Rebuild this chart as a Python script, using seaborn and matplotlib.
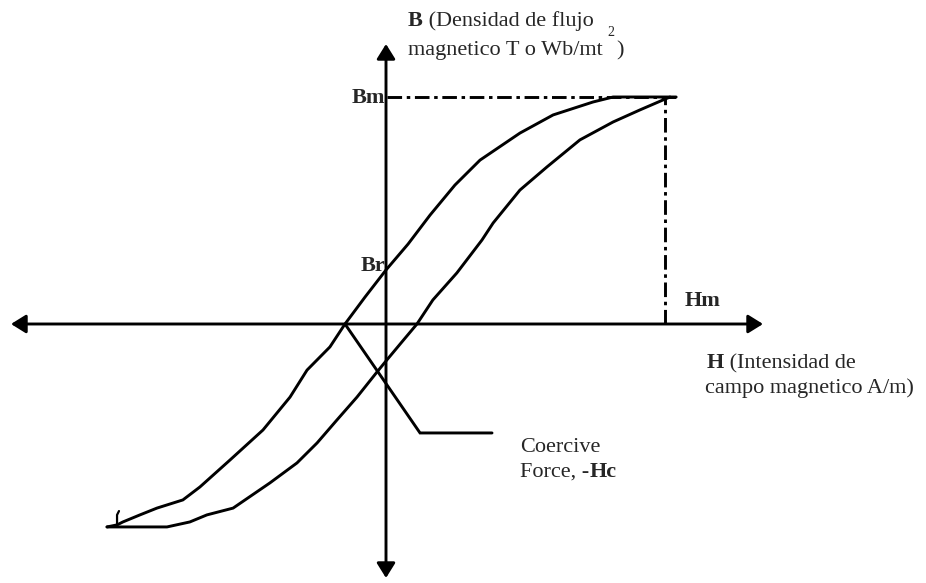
import matplotlib
matplotlib.use("Agg")
import matplotlib.pyplot as plt
import numpy as np
import pandas as pd
import seaborn as sns

# Hysteresis loop, H and B normalised so that Hm = 1 and Bm = 1
upper_h = [1.04, 0.910, 0.814, 0.742, 0.599, 0.480, 0.337, 0.247, 0.158, 0.079, 0.0,
           -0.075, -0.147, -0.201, -0.283, -0.344, -0.441, -0.559, -0.667, -0.728,
           -0.821, -0.882, -0.943, -0.964, -1.0]
upper_b = [1.0, 1.0, 1.0, 0.978, 0.921, 0.841, 0.722, 0.612, 0.480, 0.352, 0.238,
           0.119, 0.0, -0.101, -0.203, -0.322, -0.467, -0.599, -0.718, -0.775,
           -0.811, -0.841, -0.872, -0.885, -0.894]
lower_h = [-1.0, -0.785, -0.703, -0.642, -0.548, -0.416, -0.319, -0.247, -0.176,
           -0.104, -0.032, 0.0, 0.057, 0.111, 0.168, 0.254, 0.344, 0.384, 0.480,
           0.577, 0.695, 0.814, 0.910, 0.993, 1.018]
lower_b = [-0.894, -0.894, -0.872, -0.841, -0.811, -0.700, -0.612, -0.524, -0.423,
           -0.322, -0.211, -0.163, -0.079, 0.0, 0.106, 0.225, 0.370, 0.445, 0.590,
           0.692, 0.811, 0.890, 0.943, 0.987, 1.0]
# key points
h_m, b_m = 1.0, 1.0
h_c = -0.147
leader_h = [h_c, 0.122, 0.380]
leader_b = [0.0, -0.480, -0.480]
stub_h = [-0.964, -0.964, -0.957]
stub_b = [-0.894, -0.841, -0.824]

# pixel frame of the original drawing (origin at 386,324; Hm = 279 px, Bm = 227 px)
X0, Y0, SX, SY = 386, 324, 279, 227


def px(x, y):
    return (x - X0) / SX, (Y0 - y) / SY


sns.set_style("white")
plt.rcParams['font.family'] = ['Liberation Serif', 'DejaVu Serif']
FS = 16

fig = plt.figure(figsize=(9.26, 5.83), dpi=100)
ax = fig.add_axes([0, 0, 1, 1])
ax.set_xlim(px(0, 0)[0], px(926, 0)[0])
ax.set_ylim(px(0, 583)[1], px(0, 0)[1])
ax.axis('off')

lw = 2.1
loop = pd.concat([pd.DataFrame({'H': upper_h, 'B': upper_b, 'branch': 'up'}),
                  pd.DataFrame({'H': lower_h, 'B': lower_b, 'branch': 'down'})])
sns.lineplot(data=loop, x='H', y='B', units='branch', estimator=None, sort=False,
             color='black', linewidth=lw, ax=ax)
ax.plot(leader_h, leader_b, color='black', lw=lw, solid_joinstyle='miter')
ax.plot(stub_h, stub_b, color='black', lw=1.6)

# Bm / Hm dash-dot guides
dd = (0, (5, 1.6, 1.2, 1.6))
ax.plot([px(387, 0)[0], px(677, 0)[0]], [b_m, b_m], color='black', lw=lw, ls=dd)
ax.plot([h_m, h_m], [0, b_m], color='black', lw=lw, ls=dd)

# axes with arrow heads
arrow = dict(arrowstyle='<|-|>,head_length=0.45,head_width=0.28', color='black', lw=lw,
             shrinkA=0, shrinkB=0, mutation_scale=20)
ax.annotate('', xy=px(763, Y0), xytext=px(11, Y0), arrowprops=arrow)
ax.annotate('', xy=px(X0, 44), xytext=px(X0, 578), arrowprops=arrow)


def rich(x, y, parts, size=FS):
    """Write text parts one after another on the same baseline."""
    prev = None
    for s, w in parts:
        if prev is None:
            prev = ax.text(*px(x, y), s, fontsize=size, fontweight=w, va='baseline', ha='left')
        else:
            prev = ax.annotate(s, xy=(1, 0), xycoords=prev, fontsize=size, fontweight=w,
                               va='bottom', ha='left')
    return prev


rich(408, 26, [('B', 'bold'), (' (Densidad de flujo', 'normal')])
t = rich(408, 55, [('magnetico T o Wb/mt', 'normal')])
ax.annotate('2', xy=(1, 0), xycoords=t, xytext=(3, 15), textcoords='offset points',
            fontsize=10, va='bottom', ha='left')
ax.annotate(')', xy=(1, 0), xycoords=t, xytext=(10, 0), textcoords='offset points',
            fontsize=FS, va='bottom', ha='left')

ax.text(*px(385, 98), 'Bm', fontsize=FS, fontweight='bold', ha='right', va='center')
ax.text(*px(385, 266), 'Br', fontsize=FS, fontweight='bold', ha='right', va='center')
ax.text(*px(685, 301), 'Hm', fontsize=FS, fontweight='bold', ha='left', va='center')

rich(707, 368, [('H', 'bold'), (' (Intensidad de', 'normal')])
rich(705, 393, [('campo magnetico A/m)', 'normal')])
rich(520, 452, [('Coercive', 'normal')])
rich(520, 477, [('Force, -', 'normal'), ('Hc', 'bold')])

fig.savefig('out.png', dpi=100)
